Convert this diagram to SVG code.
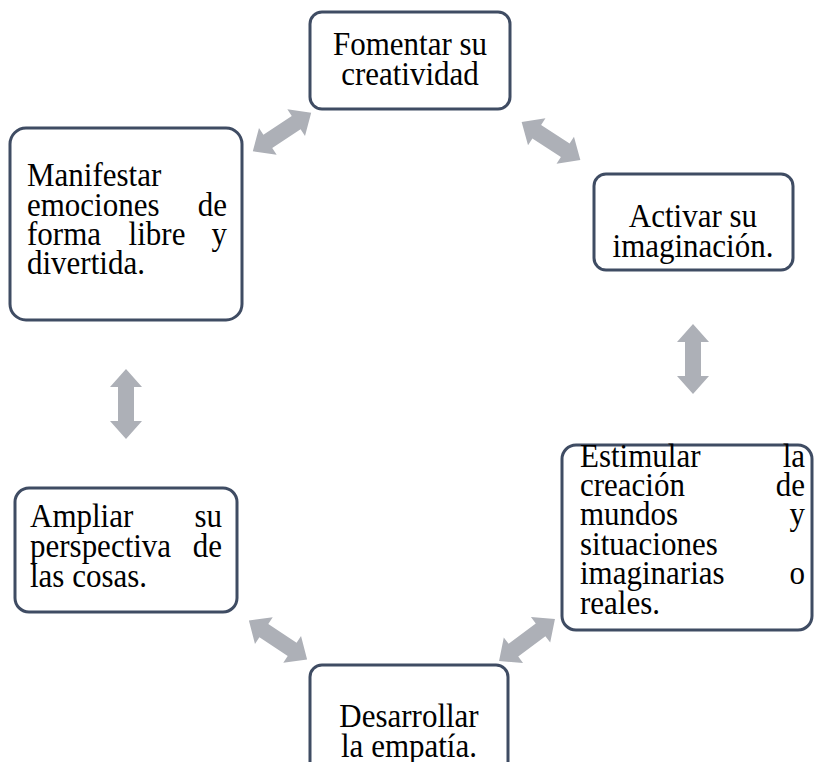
<svg xmlns="http://www.w3.org/2000/svg" width="814" height="762" viewBox="0 0 814 762">
<style>
.box{fill:#fff;stroke:#3f4c63;stroke-width:3}
.t{font-family:"Liberation Serif","Times New Roman",serif;font-size:31px;fill:#000}
.m{text-anchor:middle}
.e{text-anchor:end}
.arr{fill:#adb0b7}
</style>
<defs>
<polygon id="dbl" points="-35,0 -17,-16 -17,-8 17,-8 17,-16 35,0 17,16 17,8 -17,8 -17,16"/>
</defs>
<rect width="814" height="762" fill="#fff"/>
<g id="connectors" class="arr">
<use href="#dbl" transform="translate(282,132) rotate(-33.5)"/>
<use href="#dbl" transform="translate(551,141) rotate(33)"/>
<use href="#dbl" transform="translate(693,359) rotate(90)"/>
<use href="#dbl" transform="translate(126,404) rotate(90)"/>
<use href="#dbl" transform="translate(278,640) rotate(33.7)"/>
<use href="#dbl" transform="translate(527,640) rotate(-37)"/>
</g>
<g id="n1">
<rect class="box" x="310" y="12" width="200" height="97" rx="12"/>
<g transform="scale(1,1.1)">
<text class="t m" x="410" y="50">Fomentar su</text>
<text class="t m" x="410" y="77.27">creatividad</text>
</g>
</g>
<g id="n2">
<rect class="box" x="594" y="174" width="199" height="96" rx="12"/>
<g transform="scale(1,1.1)">
<text class="t m" x="693" y="206.36">Activar su</text>
<text class="t m" x="693" y="233.64">imaginación.</text>
</g>
</g>
<g id="n3">
<rect class="box" x="562" y="445" width="250" height="185" rx="14"/>
<g transform="scale(1,1.1)">
<text class="t" x="580" y="424.55">Estimular</text><text class="t e" x="805" y="424.55">la</text>
<text class="t" x="580" y="450.91">creación</text><text class="t e" x="805" y="450.91">de</text>
<text class="t" x="580" y="477.27">mundos</text><text class="t e" x="805" y="477.27">y</text>
<text class="t" x="580" y="504.55">situaciones</text>
<text class="t" x="580" y="530.91">imaginarias</text><text class="t e" x="805" y="530.91">o</text>
<text class="t" x="580" y="558.18">reales.</text>
</g>
</g>
<g id="n4">
<rect class="box" x="310" y="665" width="198" height="110" rx="12"/>
<g transform="scale(1,1.1)">
<text class="t m" x="409" y="660.91">Desarrollar</text>
<text class="t m" x="409" y="688.18">la empatía.</text>
</g>
</g>
<g id="n5">
<rect class="box" x="15" y="488" width="222" height="124" rx="14"/>
<g transform="scale(1,1.1)">
<text class="t" x="30" y="479.09">Ampliar</text><text class="t e" x="222" y="479.09">su</text>
<text class="t" x="30" y="506.36">perspectiva</text><text class="t e" x="222" y="506.36">de</text>
<text class="t" x="30" y="533.64">las cosas.</text>
</g>
</g>
<g id="n6">
<rect class="box" x="10" y="128" width="232" height="192" rx="16"/>
<g transform="scale(1,1.1)">
<text class="t" x="27" y="169.09">Manifestar</text>
<text class="t" x="27" y="196.36">emociones</text><text class="t e" x="227" y="196.36">de</text>
<text class="t" x="27" y="222.73">forma</text><text class="t m" x="157" y="222.73">libre</text><text class="t e" x="227" y="222.73">y</text>
<text class="t" x="27" y="249.09">divertida.</text>
</g>
</g>
</svg>
